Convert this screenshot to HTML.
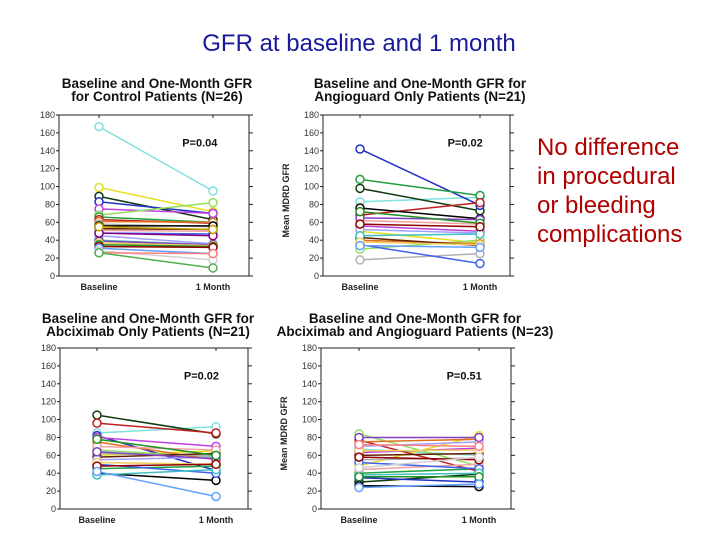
<!DOCTYPE html>
<html><head><meta charset="utf-8"><style>
body{margin:0;background:#fff;width:720px;height:540px;overflow:hidden;font-family:"Liberation Sans",sans-serif}
svg{position:absolute;left:0;top:0}
</style></head><body>
<svg id="c" width="720" height="540" xmlns="http://www.w3.org/2000/svg">
<text x="359" y="51" font-size="24" fill="#1a1a99" text-anchor="middle">GFR at baseline and 1 month</text>
<text x="537" y="155" font-size="24" fill="#b00000">No difference</text>
<text x="537" y="184" font-size="24" fill="#b00000">in procedural</text>
<text x="537" y="213" font-size="24" fill="#b00000">or bleeding</text>
<text x="537" y="242" font-size="24" fill="#b00000">complications</text>
</svg>
<script>
const yTicks=[0,20,40,60,80,100,120,140,160,180];
const categories=["Baseline","1 Month"];
const colors=["#7fe0e0","#e8e020","#103a10","#2030c0","#c040e0","#90e060","#20a040","#c02020","#e07020","#b0b0b0","#000000","#602000","#f0a0a0","#4060f0","#a0a0ff","#40c0c0","#8040c0","#f0d060","#209020","#900000","#60a0ff","#d0d0d0","#ff8080","#50b050","#800080","#c0a000"];
const ctrlBase=[167,99,89,83,75,68,66,63,61,58,56,53,51,48,45,40,39,37,35,33,31,28,26,26,48,55];
const ctrlMonth=[95,72,63,70,70,82,60,59,60,55,56,52,50,47,36,35,35,34,33,32,25,18,25,9,45,52];
const angBase=[83,50,98,142,56,30,108,68,40,18,76,43,62,35,52,45,65,38,72,58,34];
const angMonth=[88,37,73,79,50,40,90,82,36,25,64,34,58,14,48,47,63,35,59,55,32];
const abxBase=[85,60,105,82,80,66,45,96,75,62,40,58,70,50,55,38,64,52,78,48,42];
const abxMonth=[92,65,84,43,70,58,48,85,55,60,32,62,66,40,58,44,56,50,60,50,14];
const bothBase=[67,48,30,35,63,84,40,77,75,55,26,60,44,52,70,38,80,65,36,58,24,46,72];
const bothMonth=[60,82,39,30,68,48,45,42,78,57,25,62,50,45,75,40,80,66,36,55,28,58,70];
const titles=[["Baseline and One-Month GFR","for Control Patients (N=26)"],["Baseline and One-Month GFR for","Angioguard Only Patients (N=21)"],["Baseline and One-Month GFR for","Abciximab Only Patients  (N=21)"],["Baseline and One-Month GFR  for","Abciximab and Angioguard Patients (N=23)"]];
const pvals=["P=0.04","P=0.02","P=0.02","P=0.51"];
const svg=document.getElementById('c');
const NS="http://www.w3.org/2000/svg";
function mk(t,a,parent){const e=document.createElementNS(NS,t);for(const k in a)e.setAttribute(k,a[k]);(parent||svg).appendChild(e);return e;}
const panels=[
 {l:59,r:249,t:115,b:276,x0:99,x1:213,tx:157,ty:88,ylab:false,b0:ctrlBase,m1:ctrlMonth},
 {l:323,r:510,t:115,b:276,x0:360,x1:480,tx:420,ty:88,ylab:true,b0:angBase,m1:angMonth},
 {l:60,r:248,t:348,b:509,x0:97,x1:216,tx:148,ty:323,ylab:false,b0:abxBase,m1:abxMonth},
 {l:321,r:511,t:348,b:509,x0:359,x1:479,tx:415,ty:323,ylab:true,b0:bothBase,m1:bothMonth}];
panels.forEach((p,i)=>{
 const g=mk('g',{});
 
 
 const y=v=>p.b-(v/180)*(p.b-p.t);
 const fr=mk('rect',{x:p.l,y:p.t,width:p.r-p.l,height:p.b-p.t,fill:'none',stroke:'#222','stroke-width':1},g);
 
 
 yTicks.forEach(v=>{
  mk('line',{x1:p.l-3,x2:p.l,y1:y(v),y2:y(v),stroke:'#222'},g);
  mk('line',{x1:p.r,x2:p.r+4,y1:y(v),y2:y(v),stroke:'#222'},g);
  const t=mk('text',{x:p.l-4,y:y(v)+3,'font-size':9,fill:'#333','text-anchor':'end'},g);t.textContent=v;
  
  
 });
 [p.x0,p.x1].forEach((x,j)=>{
  mk('line',{x1:x,x2:x,y1:p.t,y2:p.t+3,stroke:'#222'},g);
  const t=mk('text',{x:x,y:p.b+14,'font-size':9,'font-weight':'bold',fill:'#222','text-anchor':'middle'},g);t.textContent=categories[j];
  
  
 });
 titles[i].forEach((s,j)=>{
  const t=mk('text',{x:p.tx,y:p.ty+j*13,'font-size':13.5,'font-weight':'bold',fill:'#111','text-anchor':'middle'},g);t.textContent=s;
  
  
 });
 const pt=mk('text',{x:p.x0+(p.x1-p.x0)*0.73,y:y(145),'font-size':11,'font-weight':'bold',fill:'#111'},g);pt.textContent=pvals[i];
 
 
 if(p.ylab){const t=mk('text',{x:0,y:0,'font-size':9,'font-weight':'bold',fill:'#222','text-anchor':'middle',transform:`translate(${p.l-34},${(p.t+p.b)/2+5}) rotate(-90)`},g);t.textContent='Mean MDRD GFR';
  
  }
 p.b0.forEach((v,k)=>{
  const c=colors[k%colors.length];
  const ln=mk('line',{x1:p.x0,y1:y(v),x2:p.x1,y2:y(p.m1[k]),stroke:c,'stroke-width':1.5},g);
  
  
  [[p.x0,v],[p.x1,p.m1[k]]].forEach(q=>{
   const ci=mk('circle',{cx:q[0],cy:y(q[1]),r:4,fill:'#fff',stroke:c,'stroke-width':1.5},g);
   
   
  });
 });
});
</script>
</body></html>
